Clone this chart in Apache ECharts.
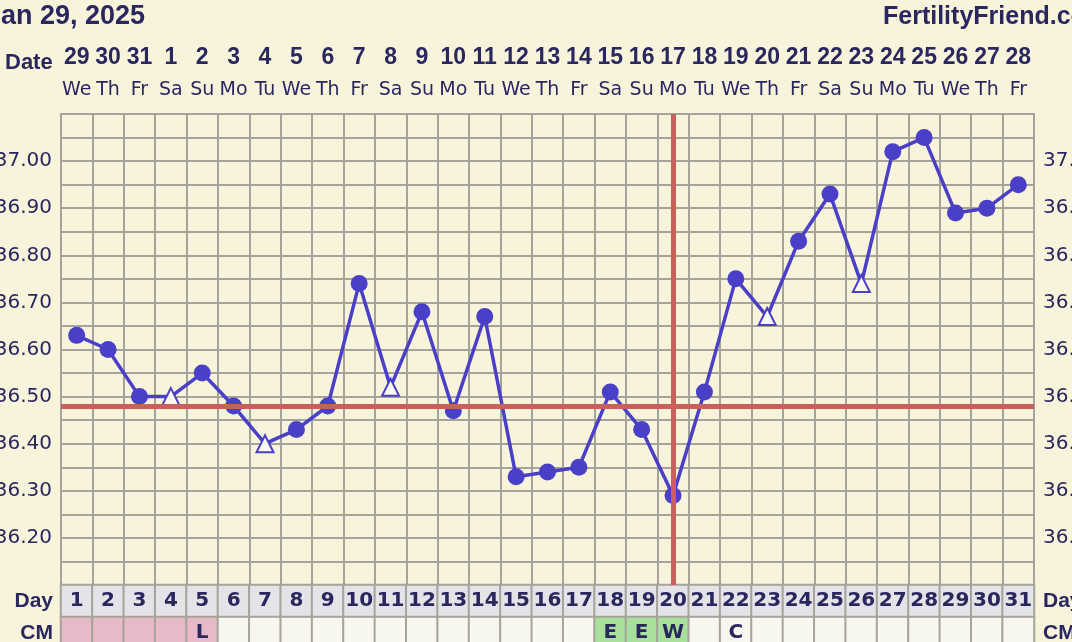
<!DOCTYPE html>
<html><head><meta charset="utf-8">
<script src="https://cdn.jsdelivr.net/npm/echarts@6/dist/echarts.min.js"></script>
<style>html,body{margin:0;padding:0;background:#f8f4dc;}#c{width:1072px;height:642px;}</style>
</head><body><div id="c"></div>
<script>
// ---- data ----
const cycleDays = ['1','2','3','4','5','6','7','8','9','10','11','12','13','14','15','16','17','18','19','20','21','22','23','24','25','26','27','28','29','30','31'];
const dates = ['29','30','31','1','2','3','4','5','6','7','8','9','10','11','12','13','14','15','16','17','18','19','20','21','22','23','24','25','26','27','28'];
const weekdays = ['We','Th','Fr','Sa','Su','Mo','Tu','We','Th','Fr','Sa','Su','Mo','Tu','We','Th','Fr','Sa','Su','Mo','Tu','We','Th','Fr','Sa','Su','Mo','Tu','We','Th','Fr'];
const temps = [36.63,36.60,36.50,36.50,36.55,36.48,36.40,36.43,36.48,36.74,36.52,36.68,36.47,36.67,36.33,36.34,36.35,36.51,36.43,36.29,36.51,36.75,36.67,36.83,36.93,36.74,37.02,37.05,36.89,36.90,36.95];
const openDays = [4,7,11,23,26];
const coverline = 36.48;
const ovulationDay = '20';
const periodDays = [1,2,3,4,5];
const cmCodes = ['','','','','L','','','','','','','','','','','','','E','E','W','','C','','','','','','','','',''];
const rowNames = ['CM','Day'];
const chartTitle = 'Jan 29, 2025';
const siteName = 'FertilityFriend.com';

// ---- style ----
const NAVY = '#2a275e', GRIDC = '#a6a39b', LINE = '#4a3fc7', RED = '#c9605b', BG = '#f8f4dc';

const chart = echarts.init(document.getElementById('c'));

const lineData = temps.map((t, i) => openDays.includes(i + 1)
  ? { value: t, symbol: 'triangle', symbolSize: 17, itemStyle: { color: '#fbf9ec', borderColor: LINE, borderWidth: 2 } }
  : t);

const heatData = [];
cycleDays.forEach((d, i) => {
  heatData.push({ value: [i, 1, 1], lbl: d, itemStyle: { color: '#e4e3e8' } });
  const code = cmCodes[i];
  let col = '#f7f6ef';
  if (periodDays.includes(i + 1)) col = '#e8b9c9';
  else if (code === 'E' || code === 'W') col = '#a9e09b';
  heatData.push({ value: [i, 0, 0], lbl: code, itemStyle: { color: col } });
});

const yLabelFmt = v => {
  const k = Math.round(v * 100);
  return (k % 10 === 0 && k >= 3620 && k <= 3700) ? v.toFixed(2) : '';
};

chart.setOption({
  backgroundColor: BG,
  animation: false,
  grid: [
    { left: 61, top: 114, width: 973, height: 471, containLabel: false, outerBoundsMode: 'none' },
    { left: 61, top: 585, width: 973, height: 64, containLabel: false, outerBoundsMode: 'none' }
  ],
  xAxis: [
    {
      gridIndex: 0, type: 'category', position: 'top', data: cycleDays,
      axisTick: { show: false },
      axisLine: { show: true, lineStyle: { color: GRIDC, width: 2 } },
      splitLine: { show: true, interval: 0, lineStyle: { color: GRIDC, width: 2 } },
      axisLabel: {
        interval: 0, margin: 7,
        formatter: (v, i) => '{d|' + dates[i] + '}\n{w|' + weekdays[i] + '}',
        rich: {
          d: { fontFamily: 'Liberation Sans', fontWeight: 'bold', fontSize: 23, lineHeight: 33, color: NAVY, align: 'center' },
          w: { fontFamily: 'DejaVu Sans', fontSize: 19, lineHeight: 33, color: NAVY, align: 'center' }
        }
      }
    },
    {
      gridIndex: 1, type: 'category', data: cycleDays,
      axisLine: { show: false }, axisTick: { show: false }, axisLabel: { show: false }, splitLine: { show: false }
    }
  ],
  yAxis: [
    {
      gridIndex: 0, type: 'value', min: 36.10, max: 37.10, interval: 0.05,
      axisLine: { show: true, lineStyle: { color: GRIDC, width: 2 } },
      axisTick: { show: false },
      splitLine: { show: true, lineStyle: { color: GRIDC, width: 2 } },
      axisLabel: { formatter: yLabelFmt, fontFamily: 'DejaVu Sans', fontSize: 20, color: NAVY, margin: 9 }
    },
    {
      gridIndex: 0, type: 'value', position: 'right', min: 36.10, max: 37.10, interval: 0.05,
      axisLine: { show: true, lineStyle: { color: GRIDC, width: 2 } },
      axisTick: { show: false },
      splitLine: { show: false },
      axisLabel: { formatter: yLabelFmt, fontFamily: 'DejaVu Sans', fontSize: 20, color: NAVY, margin: 9 }
    },
    {
      gridIndex: 1, type: 'category', data: rowNames,
      axisLine: { show: false }, axisTick: { show: false }, splitLine: { show: false },
      axisLabel: { fontFamily: 'Liberation Sans', fontWeight: 'bold', fontSize: 21, color: NAVY, margin: 8 }
    },
    {
      gridIndex: 1, type: 'category', position: 'right', data: rowNames,
      axisLine: { show: false }, axisTick: { show: false }, splitLine: { show: false },
      axisLabel: { fontFamily: 'Liberation Sans', fontWeight: 'bold', fontSize: 21, color: NAVY, margin: 9 }
    }
  ],
  series: [
    {
      type: 'line', xAxisIndex: 0, yAxisIndex: 0, data: lineData, z: 3,
      symbol: 'circle', symbolSize: 17,
      itemStyle: { color: LINE },
      lineStyle: { color: LINE, width: 3.5 },
      emphasis: { disabled: true }
    },
    {
      type: 'line', xAxisIndex: 0, yAxisIndex: 0, data: [], z: 6,
      markLine: {
        silent: true, symbol: 'none', animation: false,
        label: { show: false },
        lineStyle: { color: RED, width: 5, type: 'solid' },
        data: [{ yAxis: coverline }, { xAxis: ovulationDay }]
      }
    },
    {
      type: 'heatmap', xAxisIndex: 1, yAxisIndex: 2, data: heatData,
      itemStyle: { borderColor: GRIDC, borderWidth: 2 },
      label: {
        show: true, formatter: p => p.data.lbl,
        fontFamily: 'DejaVu Sans', fontWeight: 'bold', fontSize: 20, color: NAVY
      },
      emphasis: { disabled: true }
    }
  ],
  graphic: [
    { type: 'text', x: 145, y: 17, style: { text: chartTitle, align: 'right', verticalAlign: 'middle', font: 'bold 27px "Liberation Sans"', fill: NAVY } },
    { type: 'text', x: 883, y: 17, style: { text: siteName, align: 'left', verticalAlign: 'middle', font: 'bold 25px "Liberation Sans"', fill: NAVY } },
    { type: 'text', x: 5, y: 63, style: { text: 'Date', align: 'left', verticalAlign: 'middle', font: 'bold 22px "Liberation Sans"', fill: NAVY } }
  ]
});
</script>
</body></html>
